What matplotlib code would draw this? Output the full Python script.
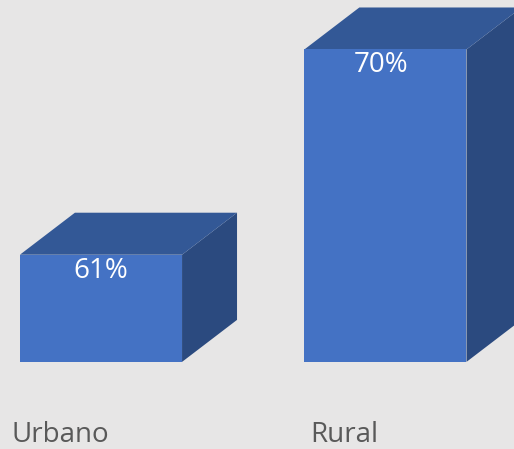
import matplotlib
matplotlib.use("Agg")
import matplotlib.pyplot as plt
import matplotlib.transforms as mtransforms

# Data
categories = ["Urbano", "Rural"]
values = [61, 70]
value_labels = ["61%", "70%"]
axis_min = 56.3

# Style
bg = "#E7E6E6"
front_col = "#4472C4"
top_col = "#335896"
side_col = "#2B4A7F"
text_col = "#595959"
bar_w = 0.57
depth_x = 0.1933
depth_y = 1.842

plt.rcParams['font.family'] = ['Open Sans', 'DejaVu Sans']

fig = plt.figure(figsize=(5.14, 4.49), dpi=100, facecolor=bg)
ax = fig.add_axes([0, 0, 1, 1])
ax.set_facecolor(bg)
ax.set_xlim(-0.355, 1.452)
ax.set_ylim(52.48, 72.17)
ax.axis('off')

label_dx = [0, -3.5]

for i, (cat, v, lab) in enumerate(zip(categories, values, value_labels)):
    x0 = i - bar_w / 2
    x1 = i + bar_w / 2
    y0 = axis_min
    y1 = v
    # side face
    ax.fill([x1, x1 + depth_x, x1 + depth_x, x1],
            [y0, y0 + depth_y, y1 + depth_y, y1], color=side_col, lw=0, zorder=2)
    # top face
    ax.fill([x0, x1, x1 + depth_x, x0 + depth_x],
            [y1, y1, y1 + depth_y, y1 + depth_y], color=top_col, lw=0, zorder=2)
    # front face
    ax.fill([x0, x1, x1, x0], [y0, y0, y1, y1], color=front_col, lw=0, zorder=3)
    # value label
    ax.annotate(lab, xy=(i, y1), xytext=(label_dx[i], -16.5), textcoords='offset points',
                ha='center', va='baseline', color='white', fontsize=20, zorder=4)
    # category label
    trans = mtransforms.blended_transform_factory(ax.transData, ax.transAxes)
    ax.annotate(cat, xy=(i, 7 / 449), xycoords=trans, xytext=(-29.5, 0),
                textcoords='offset points', ha='center', va='baseline',
                color=text_col, fontsize=20)

fig.savefig("out.png", dpi=100, facecolor=bg)
